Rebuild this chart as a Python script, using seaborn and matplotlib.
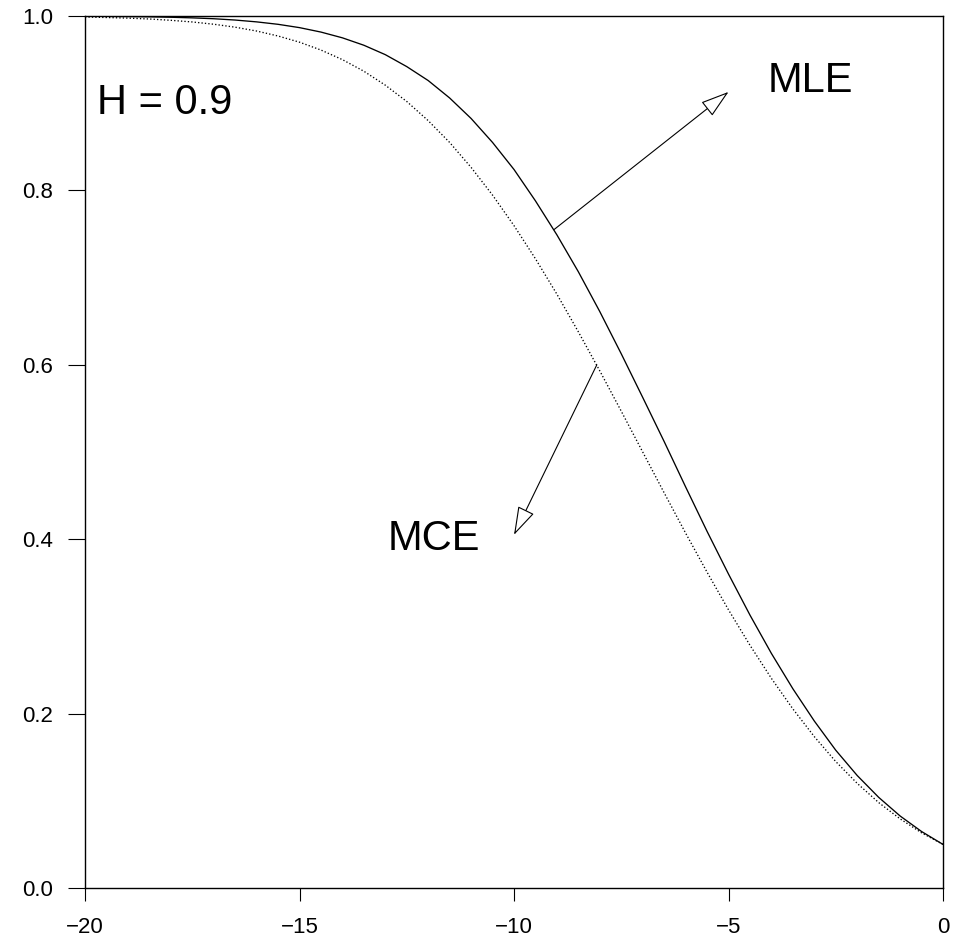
import pandas as pd
import seaborn as sns
import matplotlib.pyplot as plt

# power curves, x from -20 to 0 in steps of 0.5
x_vals = [-20.0, -19.5, -19.0, -18.5, -18.0, -17.5, -17.0, -16.5, -16.0, -15.5,
          -15.0, -14.5, -14.0, -13.5, -13.0, -12.5, -12.0, -11.5, -11.0, -10.5,
          -10.0, -9.5, -9.0, -8.5, -8.0, -7.5, -7.0, -6.5, -6.0, -5.5,
          -5.0, -4.5, -4.0, -3.5, -3.0, -2.5, -2.0, -1.5, -1.0, -0.5, 0.0]

mle_power = [0.9998, 0.9996, 0.9994, 0.9991, 0.9986, 0.9979, 0.9969, 0.9954, 0.9933, 0.9905,
             0.9867, 0.9816, 0.9750, 0.9665, 0.9557, 0.9420, 0.9260, 0.9060, 0.8825, 0.8550,
             0.8240, 0.7880, 0.7490, 0.7067, 0.6610, 0.6126, 0.5626, 0.5120, 0.4600, 0.4090,
             0.3600, 0.3130, 0.2690, 0.2285, 0.1915, 0.1580, 0.1290, 0.1040, 0.0826, 0.0648, 0.0500]

mce_power = [0.9989, 0.9983, 0.9976, 0.9966, 0.9951, 0.9932, 0.9906, 0.9872, 0.9828, 0.9771,
             0.9700, 0.9610, 0.9500, 0.9367, 0.9207, 0.9020, 0.8800, 0.8550, 0.8264, 0.7946,
             0.7596, 0.7216, 0.6810, 0.6378, 0.5930, 0.5468, 0.5000, 0.4532, 0.4070, 0.3622,
             0.3190, 0.2784, 0.2404, 0.2054, 0.1736, 0.1450, 0.1200, 0.0980, 0.0793, 0.0633, 0.0500]

x_ticks = [-20, -15, -10, -5, 0]
x_tick_labels = ["\u221220", "\u221215", "\u221210", "\u22125", "0"]
y_ticks = [0.0, 0.2, 0.4, 0.6, 0.8, 1.0]
y_tick_labels = ["0.0", "0.2", "0.4", "0.6", "0.8", "1.0"]

sns.set_theme(style="ticks")
plt.rcParams['font.family'] = ['Liberation Sans', 'DejaVu Sans']

df = pd.concat([
    pd.DataFrame({'x': x_vals, 'power': mle_power, 'est': 'MLE'}),
    pd.DataFrame({'x': x_vals, 'power': mce_power, 'est': 'MCE'}),
])

fig = plt.figure(figsize=(9.54, 9.43), dpi=100)
ax = fig.add_axes([0.0891, 0.0583, 0.8994, 0.9247])

sns.lineplot(data=df, x='x', y='power', hue='est', style='est',
             palette={'MLE': 'black', 'MCE': 'black'},
             dashes={'MLE': '', 'MCE': (1.0, 1.6)},
             linewidth=0.95, legend=False, ax=ax)

ax.set_xlim(-20, 0)
ax.set_ylim(0, 1)
ax.set_xticks(x_ticks)
ax.set_xticklabels(x_tick_labels)
ax.set_yticks(y_ticks)
ax.set_yticklabels(y_tick_labels)
ax.set_xlabel("")
ax.set_ylabel("")

for side in ['left', 'bottom', 'top', 'right']:
    ax.spines[side].set_visible(True)
    ax.spines[side].set_color('black')
    ax.spines[side].set_linewidth(1.0)

ax.tick_params(axis='x', direction='out', length=9, width=0.8, pad=12,
               labelsize=16, colors='black')
ax.tick_params(axis='y', direction='out', length=12, width=0.8, pad=11,
               labelsize=16, colors='black')

arrow_style = dict(arrowstyle='-|>,head_length=0.9,head_width=0.28',
                   mutation_scale=20, fc='white', ec='black', lw=0.8,
                   shrinkA=0, shrinkB=0)
ax.annotate("", xy=(-5.0, 0.913), xytext=(-9.07, 0.755), arrowprops=arrow_style)
ax.annotate("", xy=(-10.0, 0.405), xytext=(-8.07, 0.600), arrowprops=arrow_style)

ax.text(-4.08, 0.925, "MLE", fontsize=30, ha='left', va='center', color='black')
ax.text(-10.79, 0.400, "MCE", fontsize=30, ha='right', va='center', color='black')
ax.text(-19.72, 0.900, "H = 0.9", fontsize=30, ha='left', va='center', color='black')

fig.savefig("out.png", dpi=100)
